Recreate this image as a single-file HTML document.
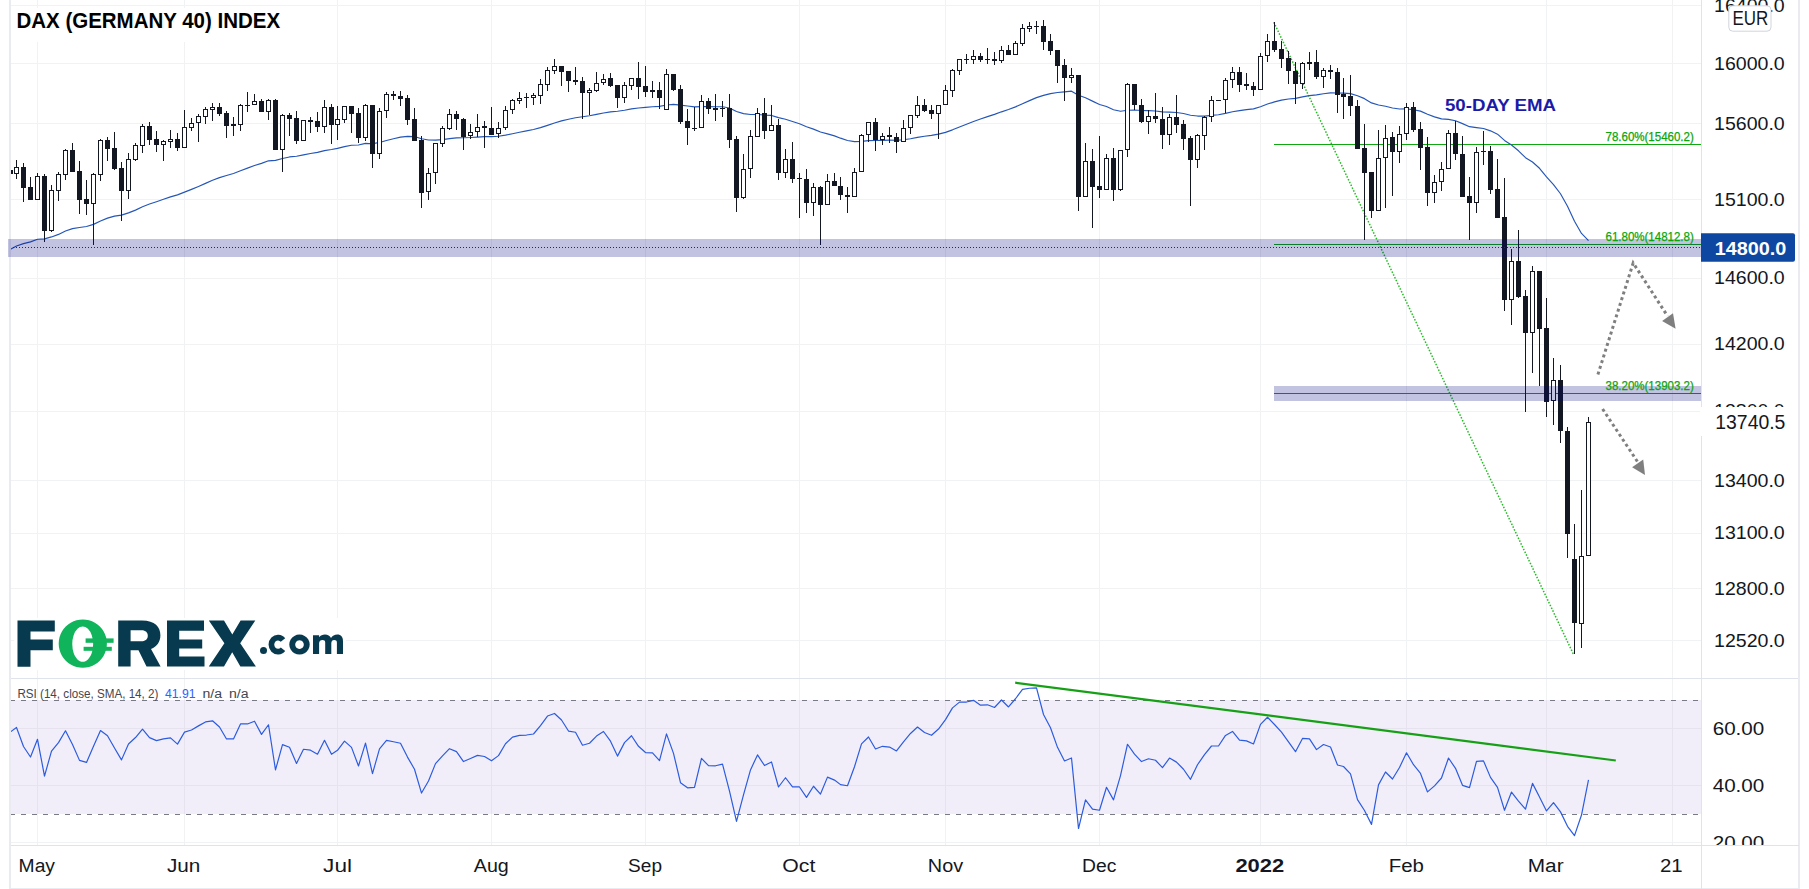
<!DOCTYPE html><html><head><meta charset="utf-8"><style>html,body{margin:0;padding:0;background:#fff;overflow:hidden;width:1809px;height:889px}svg{display:block}</style></head><body>
<svg width="1809" height="889" viewBox="0 0 1809 889">
<rect x="0" y="0" width="1809" height="889" fill="#ffffff"/>
<g shape-rendering="crispEdges" stroke="#f1f2f3" stroke-width="1">
<line x1="11" y1="5.5" x2="1701" y2="5.5"/>
<line x1="11" y1="63.5" x2="1701" y2="63.5"/>
<line x1="11" y1="123.5" x2="1701" y2="123.5"/>
<line x1="11" y1="199.5" x2="1701" y2="199.5"/>
<line x1="11" y1="278.5" x2="1701" y2="278.5"/>
<line x1="11" y1="344.5" x2="1701" y2="344.5"/>
<line x1="11" y1="411.5" x2="1701" y2="411.5"/>
<line x1="11" y1="480.5" x2="1701" y2="480.5"/>
<line x1="11" y1="533.5" x2="1701" y2="533.5"/>
<line x1="11" y1="588.5" x2="1701" y2="588.5"/>
<line x1="11" y1="640.5" x2="1701" y2="640.5"/>
<line x1="11" y1="728.5" x2="1701" y2="728.5"/>
<line x1="11" y1="785.5" x2="1701" y2="785.5"/>
<line x1="11" y1="842.5" x2="1701" y2="842.5"/>
<line x1="37.5" y1="0" x2="37.5" y2="845"/>
<line x1="184.5" y1="0" x2="184.5" y2="845"/>
<line x1="337.5" y1="0" x2="337.5" y2="845"/>
<line x1="491.5" y1="0" x2="491.5" y2="845"/>
<line x1="645.5" y1="0" x2="645.5" y2="845"/>
<line x1="799.5" y1="0" x2="799.5" y2="845"/>
<line x1="945.5" y1="0" x2="945.5" y2="845"/>
<line x1="1099.5" y1="0" x2="1099.5" y2="845"/>
<line x1="1260.5" y1="0" x2="1260.5" y2="845"/>
<line x1="1406.5" y1="0" x2="1406.5" y2="845"/>
<line x1="1546.5" y1="0" x2="1546.5" y2="845"/>
<line x1="1672.5" y1="0" x2="1672.5" y2="845"/>
</g>
<rect x="11" y="700" width="1690" height="114" fill="#f2eef9"/>
<g shape-rendering="crispEdges" stroke="#e6e3ef" stroke-width="1">
<line x1="37.5" y1="700" x2="37.5" y2="814"/>
<line x1="184.5" y1="700" x2="184.5" y2="814"/>
<line x1="337.5" y1="700" x2="337.5" y2="814"/>
<line x1="491.5" y1="700" x2="491.5" y2="814"/>
<line x1="645.5" y1="700" x2="645.5" y2="814"/>
<line x1="799.5" y1="700" x2="799.5" y2="814"/>
<line x1="945.5" y1="700" x2="945.5" y2="814"/>
<line x1="1099.5" y1="700" x2="1099.5" y2="814"/>
<line x1="1260.5" y1="700" x2="1260.5" y2="814"/>
<line x1="1406.5" y1="700" x2="1406.5" y2="814"/>
<line x1="1546.5" y1="700" x2="1546.5" y2="814"/>
<line x1="1672.5" y1="700" x2="1672.5" y2="814"/>
<line x1="11" y1="728.5" x2="1701" y2="728.5"/>
<line x1="11" y1="785.5" x2="1701" y2="785.5"/>
</g>
<g shape-rendering="crispEdges" stroke="#787b86" stroke-width="1" stroke-dasharray="5 6">
<line x1="10" y1="700.5" x2="1701" y2="700.5"/>
<line x1="10" y1="814.5" x2="1701" y2="814.5"/>
</g>
<rect x="11" y="8" width="285" height="34" fill="#ffffff"/>
<rect x="14" y="618" width="332" height="52" fill="#ffffff"/>
<g shape-rendering="crispEdges" fill="#10a810">
<rect x="1274" y="144" width="427" height="1"/>
<rect x="1274" y="244" width="427" height="1"/>
<rect x="1274" y="393" width="427" height="1"/>
</g>
<line x1="1273.8" y1="22.2" x2="1573.8" y2="655" stroke="#22bb22" stroke-width="1.5" stroke-dasharray="1.5 1.6"/>
<polyline points="10.50,249.24 16.50,245.94 23.50,243.60 30.50,241.87 37.50,239.23 44.50,238.87 51.50,236.92 58.50,234.40 65.50,231.01 72.50,228.62 79.50,227.46 86.50,226.49 93.50,224.39 100.50,221.01 107.50,218.10 114.50,216.12 121.50,215.09 128.50,212.84 135.50,210.12 142.50,206.76 149.50,204.07 156.50,201.68 163.50,199.26 170.50,196.85 177.50,194.88 184.50,192.16 191.50,189.40 198.50,186.46 205.50,183.37 212.50,180.32 219.50,177.64 226.50,175.56 233.50,173.55 240.50,170.80 247.50,168.16 254.50,165.48 261.50,163.35 268.50,160.82 275.50,160.36 282.50,158.55 289.50,156.94 296.50,156.28 303.50,154.83 310.50,153.49 317.50,152.40 324.50,150.59 331.50,149.54 337.50,148.32 344.50,146.63 351.50,145.30 358.50,144.97 365.50,143.38 372.50,143.75 379.50,142.44 386.50,140.51 393.50,138.74 400.50,137.13 407.50,136.42 414.50,136.56 421.50,138.71 428.50,140.04 435.50,140.13 442.50,139.64 449.50,138.62 456.50,137.84 463.50,137.78 470.50,137.52 477.50,137.06 484.50,136.69 491.50,136.59 498.50,136.21 505.50,135.16 512.50,133.76 519.50,132.30 526.50,130.88 533.50,129.47 540.50,127.66 547.50,125.35 554.50,122.98 561.50,120.92 568.50,119.30 575.50,117.79 582.50,116.77 589.50,115.71 596.50,114.40 603.50,112.96 610.50,111.85 617.50,111.27 624.50,110.22 631.50,108.93 638.50,108.03 645.50,107.35 652.50,106.71 659.50,106.34 666.50,105.05 673.50,104.44 680.50,105.09 687.50,105.97 694.50,106.81 701.50,106.57 708.50,106.66 715.50,106.75 722.50,106.77 729.50,108.03 736.50,111.46 743.50,113.67 750.50,114.53 757.50,114.45 764.50,115.07 771.50,115.44 778.50,117.67 785.50,119.27 792.50,121.57 799.50,123.78 806.50,126.80 813.50,129.13 820.50,132.02 827.50,133.88 834.50,135.90 840.50,138.17 847.50,140.45 854.50,141.66 861.50,141.37 868.50,140.60 875.50,140.55 882.50,140.33 889.50,140.16 896.50,140.20 903.50,139.70 910.50,138.71 917.50,137.34 924.50,136.26 931.50,135.34 938.50,134.10 945.50,132.34 952.50,129.84 959.50,127.01 966.50,124.28 973.50,121.54 980.50,119.06 987.50,116.65 994.50,114.41 1001.50,111.83 1008.50,109.54 1015.50,106.88 1022.50,103.73 1029.50,100.62 1036.50,97.63 1043.50,95.38 1050.50,93.59 1057.50,92.46 1064.50,91.85 1071.50,91.17 1078.50,95.20 1085.50,97.73 1092.50,101.13 1099.50,104.51 1106.50,106.56 1113.50,109.74 1120.50,111.30 1127.50,110.21 1134.50,109.99 1141.50,110.45 1148.50,110.66 1155.50,110.98 1162.50,111.89 1169.50,112.06 1176.50,112.53 1183.50,113.53 1190.50,115.30 1197.50,116.05 1204.50,116.06 1211.50,115.42 1218.50,114.80 1225.50,113.41 1232.50,111.77 1239.50,110.67 1246.50,109.65 1253.50,108.84 1260.50,106.70 1267.50,104.07 1274.50,101.88 1281.50,100.15 1288.50,98.97 1295.50,98.34 1302.50,96.92 1309.50,95.58 1316.50,94.81 1323.50,93.80 1330.50,92.93 1337.50,92.97 1343.50,93.09 1350.50,93.58 1357.50,95.70 1364.50,98.64 1371.50,102.91 1378.50,105.04 1385.50,106.28 1392.50,108.05 1399.50,109.02 1406.50,108.92 1413.50,109.70 1420.50,111.15 1427.50,114.27 1434.50,116.88 1441.50,118.89 1448.50,119.40 1455.50,120.74 1462.50,123.64 1469.50,126.66 1476.50,127.61 1483.50,128.48 1490.50,130.84 1497.50,134.15 1504.50,140.43 1511.50,145.03 1518.50,150.79 1525.50,157.64 1532.50,161.98 1539.50,168.28 1546.50,176.98 1553.50,184.59 1560.50,193.77 1567.50,206.20 1574.50,221.21 1581.50,233.47 1588.50,240.55" fill="none" stroke="#2456b8" stroke-width="1.15" stroke-linejoin="round"/>
<g shape-rendering="crispEdges">
<rect x="10" y="170" width="1" height="4" fill="#131722"/>
<rect x="8" y="170" width="5" height="4" fill="#131722"/>
<rect x="16" y="160" width="1" height="19" fill="#131722"/>
<rect x="14" y="167" width="5" height="7" fill="#131722"/>
<rect x="15" y="168" width="3" height="5" fill="#ffffff"/>
<rect x="23" y="163" width="1" height="39" fill="#131722"/>
<rect x="21" y="167" width="5" height="21" fill="#131722"/>
<rect x="30" y="177" width="1" height="23" fill="#131722"/>
<rect x="28" y="187" width="5" height="13" fill="#131722"/>
<rect x="37" y="173" width="1" height="27" fill="#131722"/>
<rect x="35" y="176" width="5" height="24" fill="#131722"/>
<rect x="36" y="177" width="3" height="22" fill="#ffffff"/>
<rect x="44" y="174" width="1" height="68" fill="#131722"/>
<rect x="42" y="176" width="5" height="55" fill="#131722"/>
<rect x="51" y="185" width="1" height="47" fill="#131722"/>
<rect x="49" y="190" width="5" height="41" fill="#131722"/>
<rect x="50" y="191" width="3" height="39" fill="#ffffff"/>
<rect x="58" y="172" width="1" height="29" fill="#131722"/>
<rect x="56" y="174" width="5" height="17" fill="#131722"/>
<rect x="57" y="175" width="3" height="15" fill="#ffffff"/>
<rect x="65" y="149" width="1" height="31" fill="#131722"/>
<rect x="63" y="150" width="5" height="25" fill="#131722"/>
<rect x="64" y="151" width="3" height="23" fill="#ffffff"/>
<rect x="72" y="143" width="1" height="29" fill="#131722"/>
<rect x="70" y="150" width="5" height="22" fill="#131722"/>
<rect x="79" y="161" width="1" height="53" fill="#131722"/>
<rect x="77" y="171" width="5" height="29" fill="#131722"/>
<rect x="86" y="180" width="1" height="35" fill="#131722"/>
<rect x="84" y="199" width="5" height="5" fill="#131722"/>
<rect x="93" y="173" width="1" height="72" fill="#131722"/>
<rect x="91" y="174" width="5" height="30" fill="#131722"/>
<rect x="92" y="175" width="3" height="28" fill="#ffffff"/>
<rect x="100" y="139" width="1" height="42" fill="#131722"/>
<rect x="98" y="140" width="5" height="35" fill="#131722"/>
<rect x="99" y="141" width="3" height="33" fill="#ffffff"/>
<rect x="107" y="137" width="1" height="24" fill="#131722"/>
<rect x="105" y="140" width="5" height="9" fill="#131722"/>
<rect x="114" y="132" width="1" height="38" fill="#131722"/>
<rect x="112" y="148" width="5" height="21" fill="#131722"/>
<rect x="121" y="162" width="1" height="59" fill="#131722"/>
<rect x="119" y="168" width="5" height="23" fill="#131722"/>
<rect x="128" y="153" width="1" height="46" fill="#131722"/>
<rect x="126" y="159" width="5" height="32" fill="#131722"/>
<rect x="127" y="160" width="3" height="30" fill="#ffffff"/>
<rect x="135" y="143" width="1" height="18" fill="#131722"/>
<rect x="133" y="145" width="5" height="15" fill="#131722"/>
<rect x="134" y="146" width="3" height="13" fill="#ffffff"/>
<rect x="142" y="124" width="1" height="29" fill="#131722"/>
<rect x="140" y="126" width="5" height="20" fill="#131722"/>
<rect x="141" y="127" width="3" height="18" fill="#ffffff"/>
<rect x="149" y="122" width="1" height="23" fill="#131722"/>
<rect x="147" y="126" width="5" height="14" fill="#131722"/>
<rect x="156" y="131" width="1" height="21" fill="#131722"/>
<rect x="154" y="139" width="5" height="6" fill="#131722"/>
<rect x="163" y="140" width="1" height="21" fill="#131722"/>
<rect x="161" y="141" width="5" height="4" fill="#131722"/>
<rect x="162" y="142" width="3" height="2" fill="#ffffff"/>
<rect x="170" y="130" width="1" height="18" fill="#131722"/>
<rect x="168" y="139" width="5" height="3" fill="#131722"/>
<rect x="169" y="140" width="3" height="1" fill="#ffffff"/>
<rect x="177" y="133" width="1" height="18" fill="#131722"/>
<rect x="175" y="139" width="5" height="9" fill="#131722"/>
<rect x="184" y="110" width="1" height="38" fill="#131722"/>
<rect x="182" y="127" width="5" height="21" fill="#131722"/>
<rect x="183" y="128" width="3" height="19" fill="#ffffff"/>
<rect x="191" y="118" width="1" height="13" fill="#131722"/>
<rect x="189" y="123" width="5" height="5" fill="#131722"/>
<rect x="190" y="124" width="3" height="3" fill="#ffffff"/>
<rect x="198" y="114" width="1" height="28" fill="#131722"/>
<rect x="196" y="116" width="5" height="7" fill="#131722"/>
<rect x="197" y="117" width="3" height="5" fill="#ffffff"/>
<rect x="205" y="107" width="1" height="17" fill="#131722"/>
<rect x="203" y="109" width="5" height="8" fill="#131722"/>
<rect x="204" y="110" width="3" height="6" fill="#ffffff"/>
<rect x="212" y="103" width="1" height="18" fill="#131722"/>
<rect x="210" y="107" width="5" height="3" fill="#131722"/>
<rect x="211" y="108" width="3" height="1" fill="#ffffff"/>
<rect x="219" y="103" width="1" height="13" fill="#131722"/>
<rect x="217" y="107" width="5" height="7" fill="#131722"/>
<rect x="226" y="111" width="1" height="27" fill="#131722"/>
<rect x="224" y="113" width="5" height="13" fill="#131722"/>
<rect x="233" y="117" width="1" height="19" fill="#131722"/>
<rect x="231" y="124" width="5" height="2" fill="#131722"/>
<rect x="240" y="104" width="1" height="27" fill="#131722"/>
<rect x="238" y="105" width="5" height="20" fill="#131722"/>
<rect x="239" y="106" width="3" height="18" fill="#ffffff"/>
<rect x="247" y="92" width="1" height="20" fill="#131722"/>
<rect x="245" y="105" width="5" height="1" fill="#131722"/>
<rect x="254" y="94" width="1" height="11" fill="#131722"/>
<rect x="252" y="101" width="5" height="4" fill="#131722"/>
<rect x="253" y="102" width="3" height="2" fill="#ffffff"/>
<rect x="261" y="99" width="1" height="13" fill="#131722"/>
<rect x="259" y="101" width="5" height="11" fill="#131722"/>
<rect x="268" y="99" width="1" height="21" fill="#131722"/>
<rect x="266" y="100" width="5" height="12" fill="#131722"/>
<rect x="267" y="101" width="3" height="10" fill="#ffffff"/>
<rect x="275" y="99" width="1" height="51" fill="#131722"/>
<rect x="273" y="100" width="5" height="50" fill="#131722"/>
<rect x="282" y="114" width="1" height="58" fill="#131722"/>
<rect x="280" y="115" width="5" height="35" fill="#131722"/>
<rect x="281" y="116" width="3" height="33" fill="#ffffff"/>
<rect x="289" y="113" width="1" height="23" fill="#131722"/>
<rect x="287" y="115" width="5" height="4" fill="#131722"/>
<rect x="296" y="111" width="1" height="33" fill="#131722"/>
<rect x="294" y="118" width="5" height="23" fill="#131722"/>
<rect x="303" y="120" width="1" height="21" fill="#131722"/>
<rect x="301" y="120" width="5" height="21" fill="#131722"/>
<rect x="302" y="121" width="3" height="19" fill="#ffffff"/>
<rect x="310" y="117" width="1" height="16" fill="#131722"/>
<rect x="308" y="120" width="5" height="2" fill="#131722"/>
<rect x="317" y="112" width="1" height="20" fill="#131722"/>
<rect x="315" y="121" width="5" height="6" fill="#131722"/>
<rect x="324" y="100" width="1" height="33" fill="#131722"/>
<rect x="322" y="107" width="5" height="20" fill="#131722"/>
<rect x="323" y="108" width="3" height="18" fill="#ffffff"/>
<rect x="331" y="104" width="1" height="40" fill="#131722"/>
<rect x="329" y="107" width="5" height="18" fill="#131722"/>
<rect x="337" y="106" width="1" height="34" fill="#131722"/>
<rect x="335" y="119" width="5" height="6" fill="#131722"/>
<rect x="336" y="120" width="3" height="4" fill="#ffffff"/>
<rect x="344" y="106" width="1" height="17" fill="#131722"/>
<rect x="342" y="106" width="5" height="14" fill="#131722"/>
<rect x="343" y="107" width="3" height="12" fill="#ffffff"/>
<rect x="351" y="106" width="1" height="27" fill="#131722"/>
<rect x="349" y="106" width="5" height="8" fill="#131722"/>
<rect x="358" y="108" width="1" height="35" fill="#131722"/>
<rect x="356" y="113" width="5" height="25" fill="#131722"/>
<rect x="365" y="104" width="1" height="37" fill="#131722"/>
<rect x="363" y="105" width="5" height="33" fill="#131722"/>
<rect x="364" y="106" width="3" height="31" fill="#ffffff"/>
<rect x="372" y="105" width="1" height="63" fill="#131722"/>
<rect x="370" y="105" width="5" height="49" fill="#131722"/>
<rect x="379" y="108" width="1" height="51" fill="#131722"/>
<rect x="377" y="111" width="5" height="43" fill="#131722"/>
<rect x="378" y="112" width="3" height="41" fill="#ffffff"/>
<rect x="386" y="92" width="1" height="26" fill="#131722"/>
<rect x="384" y="94" width="5" height="17" fill="#131722"/>
<rect x="385" y="95" width="3" height="15" fill="#ffffff"/>
<rect x="393" y="91" width="1" height="9" fill="#131722"/>
<rect x="391" y="94" width="5" height="2" fill="#131722"/>
<rect x="400" y="91" width="1" height="15" fill="#131722"/>
<rect x="398" y="96" width="5" height="3" fill="#131722"/>
<rect x="407" y="95" width="1" height="30" fill="#131722"/>
<rect x="405" y="98" width="5" height="22" fill="#131722"/>
<rect x="414" y="108" width="1" height="33" fill="#131722"/>
<rect x="412" y="119" width="5" height="22" fill="#131722"/>
<rect x="421" y="136" width="1" height="72" fill="#131722"/>
<rect x="419" y="140" width="5" height="53" fill="#131722"/>
<rect x="428" y="168" width="1" height="32" fill="#131722"/>
<rect x="426" y="173" width="5" height="19" fill="#131722"/>
<rect x="427" y="174" width="3" height="17" fill="#ffffff"/>
<rect x="435" y="143" width="1" height="41" fill="#131722"/>
<rect x="433" y="143" width="5" height="30" fill="#131722"/>
<rect x="434" y="144" width="3" height="28" fill="#ffffff"/>
<rect x="442" y="126" width="1" height="21" fill="#131722"/>
<rect x="440" y="128" width="5" height="16" fill="#131722"/>
<rect x="441" y="129" width="3" height="14" fill="#ffffff"/>
<rect x="449" y="109" width="1" height="21" fill="#131722"/>
<rect x="447" y="114" width="5" height="15" fill="#131722"/>
<rect x="448" y="115" width="3" height="13" fill="#ffffff"/>
<rect x="456" y="111" width="1" height="19" fill="#131722"/>
<rect x="454" y="114" width="5" height="5" fill="#131722"/>
<rect x="463" y="118" width="1" height="32" fill="#131722"/>
<rect x="461" y="119" width="5" height="18" fill="#131722"/>
<rect x="470" y="124" width="1" height="15" fill="#131722"/>
<rect x="468" y="132" width="5" height="4" fill="#131722"/>
<rect x="469" y="133" width="3" height="2" fill="#ffffff"/>
<rect x="477" y="114" width="1" height="23" fill="#131722"/>
<rect x="475" y="127" width="5" height="5" fill="#131722"/>
<rect x="476" y="128" width="3" height="3" fill="#ffffff"/>
<rect x="484" y="121" width="1" height="27" fill="#131722"/>
<rect x="482" y="126" width="5" height="2" fill="#131722"/>
<rect x="491" y="107" width="1" height="28" fill="#131722"/>
<rect x="489" y="128" width="5" height="7" fill="#131722"/>
<rect x="498" y="122" width="1" height="16" fill="#131722"/>
<rect x="496" y="128" width="5" height="6" fill="#131722"/>
<rect x="497" y="129" width="3" height="4" fill="#ffffff"/>
<rect x="505" y="106" width="1" height="24" fill="#131722"/>
<rect x="503" y="110" width="5" height="18" fill="#131722"/>
<rect x="504" y="111" width="3" height="16" fill="#ffffff"/>
<rect x="512" y="99" width="1" height="15" fill="#131722"/>
<rect x="510" y="100" width="5" height="10" fill="#131722"/>
<rect x="511" y="101" width="3" height="8" fill="#ffffff"/>
<rect x="519" y="92" width="1" height="12" fill="#131722"/>
<rect x="517" y="98" width="5" height="3" fill="#131722"/>
<rect x="518" y="99" width="3" height="1" fill="#ffffff"/>
<rect x="526" y="93" width="1" height="15" fill="#131722"/>
<rect x="524" y="97" width="5" height="1" fill="#131722"/>
<rect x="533" y="93" width="1" height="12" fill="#131722"/>
<rect x="531" y="95" width="5" height="3" fill="#131722"/>
<rect x="532" y="96" width="3" height="1" fill="#ffffff"/>
<rect x="540" y="79" width="1" height="25" fill="#131722"/>
<rect x="538" y="84" width="5" height="12" fill="#131722"/>
<rect x="539" y="85" width="3" height="10" fill="#ffffff"/>
<rect x="547" y="67" width="1" height="24" fill="#131722"/>
<rect x="545" y="70" width="5" height="15" fill="#131722"/>
<rect x="546" y="71" width="3" height="13" fill="#ffffff"/>
<rect x="554" y="59" width="1" height="15" fill="#131722"/>
<rect x="552" y="66" width="5" height="5" fill="#131722"/>
<rect x="553" y="67" width="3" height="3" fill="#ffffff"/>
<rect x="561" y="66" width="1" height="20" fill="#131722"/>
<rect x="559" y="66" width="5" height="6" fill="#131722"/>
<rect x="568" y="71" width="1" height="21" fill="#131722"/>
<rect x="566" y="71" width="5" height="10" fill="#131722"/>
<rect x="575" y="67" width="1" height="18" fill="#131722"/>
<rect x="573" y="80" width="5" height="2" fill="#131722"/>
<rect x="582" y="77" width="1" height="42" fill="#131722"/>
<rect x="580" y="81" width="5" height="12" fill="#131722"/>
<rect x="589" y="88" width="1" height="27" fill="#131722"/>
<rect x="587" y="90" width="5" height="3" fill="#131722"/>
<rect x="588" y="91" width="3" height="1" fill="#ffffff"/>
<rect x="596" y="72" width="1" height="20" fill="#131722"/>
<rect x="594" y="83" width="5" height="8" fill="#131722"/>
<rect x="595" y="84" width="3" height="6" fill="#ffffff"/>
<rect x="603" y="74" width="1" height="11" fill="#131722"/>
<rect x="601" y="79" width="5" height="4" fill="#131722"/>
<rect x="602" y="80" width="3" height="2" fill="#ffffff"/>
<rect x="610" y="73" width="1" height="14" fill="#131722"/>
<rect x="608" y="78" width="5" height="8" fill="#131722"/>
<rect x="617" y="85" width="1" height="23" fill="#131722"/>
<rect x="615" y="85" width="5" height="13" fill="#131722"/>
<rect x="624" y="82" width="1" height="21" fill="#131722"/>
<rect x="622" y="85" width="5" height="13" fill="#131722"/>
<rect x="623" y="86" width="3" height="11" fill="#ffffff"/>
<rect x="631" y="78" width="1" height="12" fill="#131722"/>
<rect x="629" y="78" width="5" height="8" fill="#131722"/>
<rect x="630" y="79" width="3" height="6" fill="#ffffff"/>
<rect x="638" y="62" width="1" height="37" fill="#131722"/>
<rect x="636" y="78" width="5" height="9" fill="#131722"/>
<rect x="645" y="66" width="1" height="31" fill="#131722"/>
<rect x="643" y="86" width="5" height="6" fill="#131722"/>
<rect x="652" y="81" width="1" height="17" fill="#131722"/>
<rect x="650" y="90" width="5" height="2" fill="#131722"/>
<rect x="659" y="82" width="1" height="27" fill="#131722"/>
<rect x="657" y="90" width="5" height="8" fill="#131722"/>
<rect x="666" y="69" width="1" height="41" fill="#131722"/>
<rect x="664" y="74" width="5" height="36" fill="#131722"/>
<rect x="665" y="75" width="3" height="34" fill="#ffffff"/>
<rect x="673" y="74" width="1" height="17" fill="#131722"/>
<rect x="671" y="74" width="5" height="16" fill="#131722"/>
<rect x="680" y="85" width="1" height="39" fill="#131722"/>
<rect x="678" y="89" width="5" height="33" fill="#131722"/>
<rect x="687" y="109" width="1" height="36" fill="#131722"/>
<rect x="685" y="121" width="5" height="7" fill="#131722"/>
<rect x="694" y="107" width="1" height="24" fill="#131722"/>
<rect x="692" y="128" width="5" height="1" fill="#131722"/>
<rect x="701" y="95" width="1" height="33" fill="#131722"/>
<rect x="699" y="101" width="5" height="27" fill="#131722"/>
<rect x="700" y="102" width="3" height="25" fill="#ffffff"/>
<rect x="708" y="98" width="1" height="16" fill="#131722"/>
<rect x="706" y="101" width="5" height="8" fill="#131722"/>
<rect x="715" y="94" width="1" height="27" fill="#131722"/>
<rect x="713" y="108" width="5" height="2" fill="#131722"/>
<rect x="722" y="101" width="1" height="16" fill="#131722"/>
<rect x="720" y="108" width="5" height="1" fill="#131722"/>
<rect x="729" y="94" width="1" height="54" fill="#131722"/>
<rect x="727" y="108" width="5" height="32" fill="#131722"/>
<rect x="736" y="136" width="1" height="76" fill="#131722"/>
<rect x="734" y="139" width="5" height="59" fill="#131722"/>
<rect x="743" y="154" width="1" height="45" fill="#131722"/>
<rect x="741" y="169" width="5" height="29" fill="#131722"/>
<rect x="742" y="170" width="3" height="27" fill="#ffffff"/>
<rect x="750" y="130" width="1" height="48" fill="#131722"/>
<rect x="748" y="136" width="5" height="33" fill="#131722"/>
<rect x="749" y="137" width="3" height="31" fill="#ffffff"/>
<rect x="757" y="108" width="1" height="29" fill="#131722"/>
<rect x="755" y="113" width="5" height="24" fill="#131722"/>
<rect x="756" y="114" width="3" height="22" fill="#ffffff"/>
<rect x="764" y="98" width="1" height="41" fill="#131722"/>
<rect x="762" y="113" width="5" height="18" fill="#131722"/>
<rect x="771" y="105" width="1" height="26" fill="#131722"/>
<rect x="769" y="125" width="5" height="6" fill="#131722"/>
<rect x="770" y="126" width="3" height="4" fill="#ffffff"/>
<rect x="778" y="119" width="1" height="61" fill="#131722"/>
<rect x="776" y="125" width="5" height="48" fill="#131722"/>
<rect x="785" y="149" width="1" height="29" fill="#131722"/>
<rect x="783" y="159" width="5" height="14" fill="#131722"/>
<rect x="784" y="160" width="3" height="12" fill="#ffffff"/>
<rect x="792" y="142" width="1" height="41" fill="#131722"/>
<rect x="790" y="159" width="5" height="20" fill="#131722"/>
<rect x="799" y="173" width="1" height="45" fill="#131722"/>
<rect x="797" y="178" width="5" height="1" fill="#131722"/>
<rect x="806" y="169" width="1" height="44" fill="#131722"/>
<rect x="804" y="179" width="5" height="24" fill="#131722"/>
<rect x="813" y="183" width="1" height="33" fill="#131722"/>
<rect x="811" y="187" width="5" height="16" fill="#131722"/>
<rect x="812" y="188" width="3" height="14" fill="#ffffff"/>
<rect x="820" y="186" width="1" height="59" fill="#131722"/>
<rect x="818" y="187" width="5" height="18" fill="#131722"/>
<rect x="827" y="174" width="1" height="31" fill="#131722"/>
<rect x="825" y="181" width="5" height="24" fill="#131722"/>
<rect x="826" y="182" width="3" height="22" fill="#ffffff"/>
<rect x="834" y="173" width="1" height="13" fill="#131722"/>
<rect x="832" y="181" width="5" height="5" fill="#131722"/>
<rect x="840" y="177" width="1" height="23" fill="#131722"/>
<rect x="838" y="186" width="5" height="9" fill="#131722"/>
<rect x="847" y="187" width="1" height="26" fill="#131722"/>
<rect x="845" y="195" width="5" height="2" fill="#131722"/>
<rect x="854" y="168" width="1" height="29" fill="#131722"/>
<rect x="852" y="172" width="5" height="25" fill="#131722"/>
<rect x="853" y="173" width="3" height="23" fill="#ffffff"/>
<rect x="861" y="134" width="1" height="38" fill="#131722"/>
<rect x="859" y="135" width="5" height="37" fill="#131722"/>
<rect x="860" y="136" width="3" height="35" fill="#ffffff"/>
<rect x="868" y="122" width="1" height="20" fill="#131722"/>
<rect x="866" y="122" width="5" height="13" fill="#131722"/>
<rect x="867" y="123" width="3" height="11" fill="#ffffff"/>
<rect x="875" y="118" width="1" height="33" fill="#131722"/>
<rect x="873" y="122" width="5" height="18" fill="#131722"/>
<rect x="882" y="133" width="1" height="12" fill="#131722"/>
<rect x="880" y="136" width="5" height="4" fill="#131722"/>
<rect x="881" y="137" width="3" height="2" fill="#ffffff"/>
<rect x="889" y="127" width="1" height="16" fill="#131722"/>
<rect x="887" y="135" width="5" height="2" fill="#131722"/>
<rect x="896" y="133" width="1" height="20" fill="#131722"/>
<rect x="894" y="137" width="5" height="5" fill="#131722"/>
<rect x="903" y="120" width="1" height="22" fill="#131722"/>
<rect x="901" y="128" width="5" height="14" fill="#131722"/>
<rect x="902" y="129" width="3" height="12" fill="#ffffff"/>
<rect x="910" y="115" width="1" height="19" fill="#131722"/>
<rect x="908" y="115" width="5" height="13" fill="#131722"/>
<rect x="909" y="116" width="3" height="11" fill="#ffffff"/>
<rect x="917" y="96" width="1" height="22" fill="#131722"/>
<rect x="915" y="105" width="5" height="11" fill="#131722"/>
<rect x="916" y="106" width="3" height="9" fill="#ffffff"/>
<rect x="924" y="99" width="1" height="13" fill="#131722"/>
<rect x="922" y="105" width="5" height="6" fill="#131722"/>
<rect x="931" y="105" width="1" height="14" fill="#131722"/>
<rect x="929" y="110" width="5" height="4" fill="#131722"/>
<rect x="938" y="105" width="1" height="34" fill="#131722"/>
<rect x="936" y="105" width="5" height="9" fill="#131722"/>
<rect x="937" y="106" width="3" height="7" fill="#ffffff"/>
<rect x="945" y="85" width="1" height="20" fill="#131722"/>
<rect x="943" y="90" width="5" height="15" fill="#131722"/>
<rect x="944" y="91" width="3" height="13" fill="#ffffff"/>
<rect x="952" y="69" width="1" height="28" fill="#131722"/>
<rect x="950" y="70" width="5" height="21" fill="#131722"/>
<rect x="951" y="71" width="3" height="19" fill="#ffffff"/>
<rect x="959" y="59" width="1" height="16" fill="#131722"/>
<rect x="957" y="59" width="5" height="12" fill="#131722"/>
<rect x="958" y="60" width="3" height="10" fill="#ffffff"/>
<rect x="966" y="54" width="1" height="10" fill="#131722"/>
<rect x="964" y="59" width="5" height="1" fill="#131722"/>
<rect x="973" y="50" width="1" height="14" fill="#131722"/>
<rect x="971" y="56" width="5" height="4" fill="#131722"/>
<rect x="972" y="57" width="3" height="2" fill="#ffffff"/>
<rect x="980" y="53" width="1" height="9" fill="#131722"/>
<rect x="978" y="56" width="5" height="4" fill="#131722"/>
<rect x="987" y="48" width="1" height="16" fill="#131722"/>
<rect x="985" y="59" width="5" height="1" fill="#131722"/>
<rect x="994" y="52" width="1" height="13" fill="#131722"/>
<rect x="992" y="59" width="5" height="2" fill="#131722"/>
<rect x="1001" y="46" width="1" height="17" fill="#131722"/>
<rect x="999" y="50" width="5" height="11" fill="#131722"/>
<rect x="1000" y="51" width="3" height="9" fill="#ffffff"/>
<rect x="1008" y="45" width="1" height="10" fill="#131722"/>
<rect x="1006" y="50" width="5" height="5" fill="#131722"/>
<rect x="1015" y="41" width="1" height="14" fill="#131722"/>
<rect x="1013" y="43" width="5" height="12" fill="#131722"/>
<rect x="1014" y="44" width="3" height="10" fill="#ffffff"/>
<rect x="1022" y="24" width="1" height="22" fill="#131722"/>
<rect x="1020" y="28" width="5" height="16" fill="#131722"/>
<rect x="1021" y="29" width="3" height="14" fill="#ffffff"/>
<rect x="1029" y="22" width="1" height="10" fill="#131722"/>
<rect x="1027" y="26" width="5" height="3" fill="#131722"/>
<rect x="1028" y="27" width="3" height="1" fill="#ffffff"/>
<rect x="1036" y="21" width="1" height="13" fill="#131722"/>
<rect x="1034" y="26" width="5" height="1" fill="#131722"/>
<rect x="1043" y="20" width="1" height="30" fill="#131722"/>
<rect x="1041" y="26" width="5" height="16" fill="#131722"/>
<rect x="1050" y="34" width="1" height="21" fill="#131722"/>
<rect x="1048" y="41" width="5" height="10" fill="#131722"/>
<rect x="1057" y="50" width="1" height="33" fill="#131722"/>
<rect x="1055" y="50" width="5" height="16" fill="#131722"/>
<rect x="1064" y="59" width="1" height="42" fill="#131722"/>
<rect x="1062" y="65" width="5" height="13" fill="#131722"/>
<rect x="1071" y="68" width="1" height="15" fill="#131722"/>
<rect x="1069" y="75" width="5" height="3" fill="#131722"/>
<rect x="1070" y="76" width="3" height="1" fill="#ffffff"/>
<rect x="1078" y="75" width="1" height="136" fill="#131722"/>
<rect x="1076" y="75" width="5" height="122" fill="#131722"/>
<rect x="1085" y="143" width="1" height="54" fill="#131722"/>
<rect x="1083" y="161" width="5" height="36" fill="#131722"/>
<rect x="1084" y="162" width="3" height="34" fill="#ffffff"/>
<rect x="1092" y="149" width="1" height="79" fill="#131722"/>
<rect x="1090" y="161" width="5" height="26" fill="#131722"/>
<rect x="1099" y="136" width="1" height="62" fill="#131722"/>
<rect x="1097" y="186" width="5" height="4" fill="#131722"/>
<rect x="1106" y="154" width="1" height="36" fill="#131722"/>
<rect x="1104" y="158" width="5" height="32" fill="#131722"/>
<rect x="1105" y="159" width="3" height="30" fill="#ffffff"/>
<rect x="1113" y="148" width="1" height="53" fill="#131722"/>
<rect x="1111" y="158" width="5" height="32" fill="#131722"/>
<rect x="1120" y="150" width="1" height="41" fill="#131722"/>
<rect x="1118" y="150" width="5" height="40" fill="#131722"/>
<rect x="1119" y="151" width="3" height="38" fill="#ffffff"/>
<rect x="1127" y="83" width="1" height="74" fill="#131722"/>
<rect x="1125" y="84" width="5" height="66" fill="#131722"/>
<rect x="1126" y="85" width="3" height="64" fill="#ffffff"/>
<rect x="1134" y="84" width="1" height="26" fill="#131722"/>
<rect x="1132" y="84" width="5" height="21" fill="#131722"/>
<rect x="1141" y="99" width="1" height="24" fill="#131722"/>
<rect x="1139" y="105" width="5" height="17" fill="#131722"/>
<rect x="1148" y="110" width="1" height="24" fill="#131722"/>
<rect x="1146" y="116" width="5" height="6" fill="#131722"/>
<rect x="1147" y="117" width="3" height="4" fill="#ffffff"/>
<rect x="1155" y="93" width="1" height="30" fill="#131722"/>
<rect x="1153" y="116" width="5" height="3" fill="#131722"/>
<rect x="1162" y="107" width="1" height="42" fill="#131722"/>
<rect x="1160" y="119" width="5" height="16" fill="#131722"/>
<rect x="1169" y="114" width="1" height="31" fill="#131722"/>
<rect x="1167" y="117" width="5" height="18" fill="#131722"/>
<rect x="1168" y="118" width="3" height="16" fill="#ffffff"/>
<rect x="1176" y="95" width="1" height="38" fill="#131722"/>
<rect x="1174" y="117" width="5" height="8" fill="#131722"/>
<rect x="1183" y="120" width="1" height="30" fill="#131722"/>
<rect x="1181" y="124" width="5" height="15" fill="#131722"/>
<rect x="1190" y="136" width="1" height="70" fill="#131722"/>
<rect x="1188" y="138" width="5" height="22" fill="#131722"/>
<rect x="1197" y="134" width="1" height="34" fill="#131722"/>
<rect x="1195" y="135" width="5" height="25" fill="#131722"/>
<rect x="1196" y="136" width="3" height="23" fill="#ffffff"/>
<rect x="1204" y="116" width="1" height="34" fill="#131722"/>
<rect x="1202" y="117" width="5" height="19" fill="#131722"/>
<rect x="1203" y="118" width="3" height="17" fill="#ffffff"/>
<rect x="1211" y="96" width="1" height="26" fill="#131722"/>
<rect x="1209" y="100" width="5" height="17" fill="#131722"/>
<rect x="1210" y="101" width="3" height="15" fill="#ffffff"/>
<rect x="1216" y="100" width="5" height="1" fill="#131722"/>
<rect x="1225" y="78" width="1" height="35" fill="#131722"/>
<rect x="1223" y="80" width="5" height="20" fill="#131722"/>
<rect x="1224" y="81" width="3" height="18" fill="#ffffff"/>
<rect x="1232" y="67" width="1" height="21" fill="#131722"/>
<rect x="1230" y="72" width="5" height="8" fill="#131722"/>
<rect x="1231" y="73" width="3" height="6" fill="#ffffff"/>
<rect x="1239" y="67" width="1" height="25" fill="#131722"/>
<rect x="1237" y="72" width="5" height="13" fill="#131722"/>
<rect x="1246" y="73" width="1" height="17" fill="#131722"/>
<rect x="1244" y="84" width="5" height="2" fill="#131722"/>
<rect x="1253" y="82" width="1" height="14" fill="#131722"/>
<rect x="1251" y="86" width="5" height="4" fill="#131722"/>
<rect x="1260" y="53" width="1" height="37" fill="#131722"/>
<rect x="1258" y="56" width="5" height="34" fill="#131722"/>
<rect x="1259" y="57" width="3" height="32" fill="#ffffff"/>
<rect x="1267" y="34" width="1" height="28" fill="#131722"/>
<rect x="1265" y="41" width="5" height="15" fill="#131722"/>
<rect x="1266" y="42" width="3" height="13" fill="#ffffff"/>
<rect x="1274" y="22" width="1" height="30" fill="#131722"/>
<rect x="1272" y="41" width="5" height="9" fill="#131722"/>
<rect x="1281" y="41" width="1" height="27" fill="#131722"/>
<rect x="1279" y="49" width="5" height="10" fill="#131722"/>
<rect x="1288" y="51" width="1" height="33" fill="#131722"/>
<rect x="1286" y="58" width="5" height="13" fill="#131722"/>
<rect x="1295" y="62" width="1" height="42" fill="#131722"/>
<rect x="1293" y="71" width="5" height="13" fill="#131722"/>
<rect x="1302" y="62" width="1" height="27" fill="#131722"/>
<rect x="1300" y="63" width="5" height="21" fill="#131722"/>
<rect x="1301" y="64" width="3" height="19" fill="#ffffff"/>
<rect x="1309" y="52" width="1" height="18" fill="#131722"/>
<rect x="1307" y="62" width="5" height="2" fill="#131722"/>
<rect x="1316" y="50" width="1" height="29" fill="#131722"/>
<rect x="1314" y="62" width="5" height="15" fill="#131722"/>
<rect x="1323" y="68" width="1" height="20" fill="#131722"/>
<rect x="1321" y="70" width="5" height="7" fill="#131722"/>
<rect x="1322" y="71" width="3" height="5" fill="#ffffff"/>
<rect x="1330" y="65" width="1" height="14" fill="#131722"/>
<rect x="1328" y="70" width="5" height="2" fill="#131722"/>
<rect x="1337" y="68" width="1" height="45" fill="#131722"/>
<rect x="1335" y="72" width="5" height="23" fill="#131722"/>
<rect x="1343" y="78" width="1" height="41" fill="#131722"/>
<rect x="1341" y="94" width="5" height="3" fill="#131722"/>
<rect x="1350" y="75" width="1" height="41" fill="#131722"/>
<rect x="1348" y="96" width="5" height="10" fill="#131722"/>
<rect x="1357" y="100" width="1" height="49" fill="#131722"/>
<rect x="1355" y="106" width="5" height="43" fill="#131722"/>
<rect x="1364" y="124" width="1" height="116" fill="#131722"/>
<rect x="1362" y="148" width="5" height="25" fill="#131722"/>
<rect x="1371" y="172" width="1" height="46" fill="#131722"/>
<rect x="1369" y="172" width="5" height="39" fill="#131722"/>
<rect x="1378" y="130" width="1" height="81" fill="#131722"/>
<rect x="1376" y="158" width="5" height="53" fill="#131722"/>
<rect x="1377" y="159" width="3" height="51" fill="#ffffff"/>
<rect x="1385" y="125" width="1" height="83" fill="#131722"/>
<rect x="1383" y="138" width="5" height="20" fill="#131722"/>
<rect x="1384" y="139" width="3" height="18" fill="#ffffff"/>
<rect x="1392" y="132" width="1" height="64" fill="#131722"/>
<rect x="1390" y="137" width="5" height="15" fill="#131722"/>
<rect x="1399" y="126" width="1" height="37" fill="#131722"/>
<rect x="1397" y="134" width="5" height="18" fill="#131722"/>
<rect x="1398" y="135" width="3" height="16" fill="#ffffff"/>
<rect x="1406" y="103" width="1" height="37" fill="#131722"/>
<rect x="1404" y="107" width="5" height="27" fill="#131722"/>
<rect x="1405" y="108" width="3" height="25" fill="#ffffff"/>
<rect x="1413" y="102" width="1" height="30" fill="#131722"/>
<rect x="1411" y="107" width="5" height="23" fill="#131722"/>
<rect x="1420" y="122" width="1" height="48" fill="#131722"/>
<rect x="1418" y="129" width="5" height="19" fill="#131722"/>
<rect x="1427" y="137" width="1" height="69" fill="#131722"/>
<rect x="1425" y="147" width="5" height="46" fill="#131722"/>
<rect x="1434" y="175" width="1" height="28" fill="#131722"/>
<rect x="1432" y="182" width="5" height="11" fill="#131722"/>
<rect x="1433" y="183" width="3" height="9" fill="#ffffff"/>
<rect x="1441" y="162" width="1" height="29" fill="#131722"/>
<rect x="1439" y="169" width="5" height="13" fill="#131722"/>
<rect x="1440" y="170" width="3" height="11" fill="#ffffff"/>
<rect x="1448" y="130" width="1" height="39" fill="#131722"/>
<rect x="1446" y="133" width="5" height="36" fill="#131722"/>
<rect x="1447" y="134" width="3" height="34" fill="#ffffff"/>
<rect x="1455" y="121" width="1" height="39" fill="#131722"/>
<rect x="1453" y="133" width="5" height="21" fill="#131722"/>
<rect x="1462" y="136" width="1" height="60" fill="#131722"/>
<rect x="1460" y="154" width="5" height="43" fill="#131722"/>
<rect x="1469" y="177" width="1" height="63" fill="#131722"/>
<rect x="1467" y="196" width="5" height="7" fill="#131722"/>
<rect x="1476" y="147" width="1" height="66" fill="#131722"/>
<rect x="1474" y="152" width="5" height="51" fill="#131722"/>
<rect x="1475" y="153" width="3" height="49" fill="#ffffff"/>
<rect x="1483" y="131" width="1" height="34" fill="#131722"/>
<rect x="1481" y="151" width="5" height="1" fill="#131722"/>
<rect x="1490" y="146" width="1" height="48" fill="#131722"/>
<rect x="1488" y="151" width="5" height="39" fill="#131722"/>
<rect x="1497" y="159" width="1" height="59" fill="#131722"/>
<rect x="1495" y="189" width="5" height="29" fill="#131722"/>
<rect x="1504" y="178" width="1" height="133" fill="#131722"/>
<rect x="1502" y="217" width="5" height="83" fill="#131722"/>
<rect x="1511" y="249" width="1" height="76" fill="#131722"/>
<rect x="1509" y="261" width="5" height="39" fill="#131722"/>
<rect x="1510" y="262" width="3" height="37" fill="#ffffff"/>
<rect x="1518" y="230" width="1" height="68" fill="#131722"/>
<rect x="1516" y="261" width="5" height="36" fill="#131722"/>
<rect x="1525" y="290" width="1" height="122" fill="#131722"/>
<rect x="1523" y="296" width="5" height="37" fill="#131722"/>
<rect x="1532" y="266" width="1" height="107" fill="#131722"/>
<rect x="1530" y="271" width="5" height="62" fill="#131722"/>
<rect x="1531" y="272" width="3" height="60" fill="#ffffff"/>
<rect x="1539" y="271" width="1" height="115" fill="#131722"/>
<rect x="1537" y="271" width="5" height="58" fill="#131722"/>
<rect x="1546" y="298" width="1" height="119" fill="#131722"/>
<rect x="1544" y="328" width="5" height="74" fill="#131722"/>
<rect x="1553" y="358" width="1" height="67" fill="#131722"/>
<rect x="1551" y="380" width="5" height="21" fill="#131722"/>
<rect x="1552" y="381" width="3" height="19" fill="#ffffff"/>
<rect x="1560" y="365" width="1" height="78" fill="#131722"/>
<rect x="1558" y="380" width="5" height="51" fill="#131722"/>
<rect x="1567" y="427" width="1" height="131" fill="#131722"/>
<rect x="1565" y="431" width="5" height="103" fill="#131722"/>
<rect x="1574" y="524" width="1" height="130" fill="#131722"/>
<rect x="1572" y="559" width="5" height="64" fill="#131722"/>
<rect x="1581" y="490" width="1" height="158" fill="#131722"/>
<rect x="1579" y="556" width="5" height="68" fill="#131722"/>
<rect x="1580" y="557" width="3" height="66" fill="#ffffff"/>
<rect x="1588" y="417" width="1" height="139" fill="#131722"/>
<rect x="1586" y="422" width="5" height="134" fill="#131722"/>
<rect x="1587" y="423" width="3" height="132" fill="#ffffff"/>
</g>
<rect x="8" y="239" width="1693" height="18" fill="rgba(0,0,128,0.24)" shape-rendering="crispEdges"/>
<rect x="1274" y="386" width="427" height="15" fill="rgba(0,0,128,0.24)" shape-rendering="crispEdges"/>
<line x1="10" y1="247.5" x2="1701" y2="247.5" stroke="#0b2a9c" stroke-width="1" stroke-dasharray="1 2" shape-rendering="crispEdges"/>
<line x1="1015.2" y1="682.7" x2="1615.8" y2="760.5" stroke="#16a016" stroke-width="2.2"/>
<polyline points="10.50,731.89 16.50,727.44 23.50,746.48 30.50,757.01 37.50,739.34 44.50,776.04 51.50,751.15 58.50,742.60 65.50,730.78 72.50,744.53 79.50,760.38 86.50,762.45 93.50,746.36 100.50,730.54 107.50,735.75 114.50,747.98 121.50,759.88 128.50,743.96 135.50,737.54 142.50,729.11 149.50,737.66 156.50,740.63 163.50,738.90 170.50,737.85 177.50,744.09 184.50,732.14 191.50,729.95 198.50,725.87 205.50,721.94 212.50,720.81 219.50,726.98 226.50,738.97 233.50,738.97 240.50,723.94 247.50,723.94 254.50,721.24 261.50,734.38 268.50,724.76 275.50,769.92 282.50,744.66 289.50,747.29 296.50,763.43 303.50,749.23 310.50,750.21 317.50,754.19 324.50,740.33 331.50,754.26 337.50,750.32 344.50,741.11 351.50,747.41 358.50,765.99 365.50,743.09 372.50,773.68 379.50,748.86 386.50,740.36 393.50,741.76 400.50,743.25 407.50,757.08 414.50,769.21 421.50,793.07 428.50,781.00 435.50,763.64 442.50,755.89 449.50,748.69 456.50,751.65 463.50,761.54 470.50,758.51 477.50,755.37 484.50,756.49 491.50,760.78 498.50,755.64 505.50,743.74 512.50,737.16 519.50,735.38 526.50,735.03 533.50,733.99 540.50,725.71 547.50,716.06 554.50,713.44 561.50,720.04 568.50,731.05 575.50,732.27 582.50,745.25 589.50,743.28 596.50,736.06 603.50,731.50 610.50,741.16 617.50,756.11 624.50,742.65 631.50,735.72 638.50,746.32 645.50,752.55 652.50,752.81 659.50,760.63 666.50,733.91 673.50,753.33 680.50,782.65 687.50,787.81 694.50,787.32 701.50,758.42 708.50,765.70 715.50,765.79 722.50,764.11 729.50,791.13 736.50,821.38 743.50,794.92 750.50,769.90 757.50,754.88 764.50,765.54 771.50,761.93 778.50,787.00 785.50,777.74 792.50,786.97 799.50,786.97 806.50,797.39 813.50,786.23 820.50,794.06 827.50,777.14 834.50,780.08 840.50,784.62 847.50,785.72 854.50,766.75 861.50,743.83 868.50,736.96 875.50,748.95 882.50,746.30 889.50,747.09 896.50,750.92 903.50,741.78 910.50,733.48 917.50,727.00 924.50,732.46 931.50,735.30 938.50,729.07 945.50,719.58 952.50,707.88 959.50,702.14 966.50,702.03 973.50,700.35 980.50,705.19 987.50,704.80 994.50,707.49 1001.50,699.99 1008.50,706.95 1015.50,698.75 1022.50,689.41 1029.50,688.27 1036.50,687.96 1043.50,714.49 1050.50,727.80 1057.50,747.34 1064.50,760.96 1071.50,757.99 1078.50,828.52 1085.50,799.86 1092.50,809.14 1099.50,810.22 1106.50,787.27 1113.50,799.84 1120.50,775.61 1127.50,744.25 1134.50,754.09 1141.50,761.56 1148.50,758.73 1155.50,760.23 1162.50,767.71 1169.50,758.06 1176.50,762.11 1183.50,769.28 1190.50,779.29 1197.50,764.75 1204.50,754.67 1211.50,746.00 1218.50,746.00 1225.50,735.45 1232.50,731.44 1239.50,740.22 1246.50,740.88 1253.50,743.94 1260.50,724.39 1267.50,717.24 1274.50,724.49 1281.50,732.14 1288.50,741.95 1295.50,751.70 1302.50,738.42 1309.50,738.83 1316.50,749.62 1323.50,744.53 1330.50,746.98 1337.50,764.98 1343.50,766.49 1350.50,773.86 1357.50,799.62 1364.50,810.53 1371.50,824.38 1378.50,784.89 1385.50,772.00 1392.50,779.04 1399.50,767.49 1406.50,752.76 1413.50,764.68 1420.50,773.43 1427.50,791.92 1434.50,785.88 1441.50,777.99 1448.50,758.03 1455.50,768.35 1462.50,785.35 1469.50,787.59 1476.50,761.38 1483.50,760.86 1490.50,777.37 1497.50,787.36 1504.50,810.30 1511.50,792.04 1518.50,801.10 1525.50,809.14 1532.50,783.39 1539.50,797.04 1546.50,810.91 1553.50,802.71 1560.50,811.88 1567.50,826.28 1574.50,835.65 1581.50,815.01 1588.50,779.89" fill="none" stroke="#2b5ce0" stroke-width="1.2" stroke-linejoin="round"/>
<g stroke="#7f7f7f" stroke-width="3" stroke-dasharray="3 3" fill="none">
<polyline points="1597.9,374.5 1633.2,263 1667.5,316"/>
<line x1="1602.6" y1="409" x2="1639" y2="464"/>
</g>
<g fill="#7f7f7f">
<polygon points="1662.1,321 1673,313.2 1675.6,328.7"/>
<polygon points="1632.1,467.2 1643.2,459.4 1645,474.9"/>
</g>
<g shape-rendering="crispEdges">
<rect x="1701" y="0" width="98" height="889" fill="#ffffff"/>
<rect x="0" y="845" width="1701" height="44" fill="#ffffff"/>
<rect x="0" y="0" width="9" height="889" fill="#ffffff"/>
<rect x="1799" y="0" width="10" height="889" fill="#ffffff"/>
</g>
<g shape-rendering="crispEdges" fill="#e9ebf1">
<rect x="9" y="0" width="2" height="889"/>
<rect x="1798" y="0" width="2" height="889"/>
<rect x="9" y="888" width="1791" height="1"/>
</g>
<rect x="8" y="239" width="3" height="18" fill="rgba(0,0,128,0.24)" shape-rendering="crispEdges"/>
<g shape-rendering="crispEdges" fill="#e0e3eb">
<rect x="1701" y="0" width="1" height="845"/>
<rect x="11" y="678" width="1787" height="1"/>
<rect x="11" y="845" width="1787" height="1"/>
<rect x="1701" y="845" width="1" height="44"/>
</g>
<text x="1714.0" y="11.8" font-family="Liberation Sans, sans-serif" font-size="18.2" font-weight="normal" fill="#131722" textLength="70.7" lengthAdjust="spacingAndGlyphs">16400.0</text>
<text x="1714.0" y="69.8" font-family="Liberation Sans, sans-serif" font-size="18.2" font-weight="normal" fill="#131722" textLength="70.7" lengthAdjust="spacingAndGlyphs">16000.0</text>
<text x="1714.0" y="129.7" font-family="Liberation Sans, sans-serif" font-size="18.2" font-weight="normal" fill="#131722" textLength="70.7" lengthAdjust="spacingAndGlyphs">15600.0</text>
<text x="1714.0" y="205.5" font-family="Liberation Sans, sans-serif" font-size="18.2" font-weight="normal" fill="#131722" textLength="70.7" lengthAdjust="spacingAndGlyphs">15100.0</text>
<text x="1714.0" y="284.4" font-family="Liberation Sans, sans-serif" font-size="18.2" font-weight="normal" fill="#131722" textLength="70.7" lengthAdjust="spacingAndGlyphs">14600.0</text>
<text x="1714.0" y="350.4" font-family="Liberation Sans, sans-serif" font-size="18.2" font-weight="normal" fill="#131722" textLength="70.7" lengthAdjust="spacingAndGlyphs">14200.0</text>
<text x="1714.0" y="417.4" font-family="Liberation Sans, sans-serif" font-size="18.2" font-weight="normal" fill="#131722" textLength="70.7" lengthAdjust="spacingAndGlyphs">13800.0</text>
<text x="1714.0" y="487.0" font-family="Liberation Sans, sans-serif" font-size="18.2" font-weight="normal" fill="#131722" textLength="70.7" lengthAdjust="spacingAndGlyphs">13400.0</text>
<text x="1714.0" y="539.4" font-family="Liberation Sans, sans-serif" font-size="18.2" font-weight="normal" fill="#131722" textLength="70.7" lengthAdjust="spacingAndGlyphs">13100.0</text>
<text x="1714.0" y="594.8" font-family="Liberation Sans, sans-serif" font-size="18.2" font-weight="normal" fill="#131722" textLength="70.7" lengthAdjust="spacingAndGlyphs">12800.0</text>
<text x="1714.0" y="646.7" font-family="Liberation Sans, sans-serif" font-size="18.2" font-weight="normal" fill="#131722" textLength="70.7" lengthAdjust="spacingAndGlyphs">12520.0</text>
<text x="1712.7" y="735.0" font-family="Liberation Sans, sans-serif" font-size="18.2" font-weight="normal" fill="#131722" textLength="51.6" lengthAdjust="spacingAndGlyphs">60.00</text>
<text x="1712.7" y="791.9" font-family="Liberation Sans, sans-serif" font-size="18.2" font-weight="normal" fill="#131722" textLength="51.6" lengthAdjust="spacingAndGlyphs">40.00</text>
<text x="1712.7" y="848.8" font-family="Liberation Sans, sans-serif" font-size="18.2" font-weight="normal" fill="#131722" textLength="51.6" lengthAdjust="spacingAndGlyphs">20.00</text>
<rect x="1702" y="845" width="96" height="43" fill="#ffffff"/>
<rect x="1701" y="845" width="98" height="1" fill="#e0e3eb"/>
<rect x="1728.8" y="5.8" width="42.2" height="25.4" rx="4" fill="#ffffff" stroke="#d1d4dc" stroke-width="1"/>
<text x="1732.5" y="24.7" font-family="Liberation Sans, sans-serif" font-size="19.5" fill="#131722" textLength="35.8" lengthAdjust="spacingAndGlyphs">EUR</text>
<path d="M1701,233.2 H1793 a2,2 0 0 1 2,2 V259.7 a2,2 0 0 1 -2,2 H1701 Z" fill="#0e47a2"/>
<text x="1714.7" y="254.7" font-family="Liberation Sans, sans-serif" font-size="18.6" font-weight="bold" fill="#ffffff" textLength="71.6" lengthAdjust="spacingAndGlyphs">14800.0</text>
<rect x="1700" y="407" width="98" height="29" fill="#ffffff"/>
<text x="1715.3" y="429.1" font-family="Liberation Sans, sans-serif" font-size="19.7" font-weight="normal" fill="#131722" textLength="70.1" lengthAdjust="spacingAndGlyphs">13740.5</text>
<text x="18.6" y="871.6" font-family="Liberation Sans, sans-serif" font-size="18" font-weight="normal" fill="#131722" textLength="36.4" lengthAdjust="spacingAndGlyphs">May</text>
<text x="166.9" y="871.6" font-family="Liberation Sans, sans-serif" font-size="18" font-weight="normal" fill="#131722" textLength="33.4" lengthAdjust="spacingAndGlyphs">Jun</text>
<text x="323.1" y="871.6" font-family="Liberation Sans, sans-serif" font-size="18" font-weight="normal" fill="#131722" textLength="28.9" lengthAdjust="spacingAndGlyphs">Jul</text>
<text x="473.8" y="871.6" font-family="Liberation Sans, sans-serif" font-size="18" font-weight="normal" fill="#131722" textLength="35.0" lengthAdjust="spacingAndGlyphs">Aug</text>
<text x="628.1" y="871.6" font-family="Liberation Sans, sans-serif" font-size="18" font-weight="normal" fill="#131722" textLength="33.9" lengthAdjust="spacingAndGlyphs">Sep</text>
<text x="782.3" y="871.6" font-family="Liberation Sans, sans-serif" font-size="18" font-weight="normal" fill="#131722" textLength="33.0" lengthAdjust="spacingAndGlyphs">Oct</text>
<text x="927.8" y="871.6" font-family="Liberation Sans, sans-serif" font-size="18" font-weight="normal" fill="#131722" textLength="35.3" lengthAdjust="spacingAndGlyphs">Nov</text>
<text x="1082.1" y="871.6" font-family="Liberation Sans, sans-serif" font-size="18" font-weight="normal" fill="#131722" textLength="34.3" lengthAdjust="spacingAndGlyphs">Dec</text>
<text x="1388.7" y="871.6" font-family="Liberation Sans, sans-serif" font-size="18" font-weight="normal" fill="#131722" textLength="35.2" lengthAdjust="spacingAndGlyphs">Feb</text>
<text x="1527.8" y="871.6" font-family="Liberation Sans, sans-serif" font-size="18" font-weight="normal" fill="#131722" textLength="35.8" lengthAdjust="spacingAndGlyphs">Mar</text>
<text x="1660.0" y="871.6" font-family="Liberation Sans, sans-serif" font-size="18" font-weight="normal" fill="#131722" textLength="22.7" lengthAdjust="spacingAndGlyphs">21</text>
<text x="1235.4" y="871.6" font-family="Liberation Sans, sans-serif" font-size="18" font-weight="bold" fill="#131722" textLength="48.8" lengthAdjust="spacingAndGlyphs">2022</text>
<text x="16.5" y="28.1" font-family="Liberation Sans, sans-serif" font-size="21.7" font-weight="bold" fill="#000000" textLength="263.6" lengthAdjust="spacingAndGlyphs">DAX (GERMANY 40) INDEX</text>
<text x="1444.9" y="110.7" font-family="Liberation Sans, sans-serif" font-size="17.4" font-weight="bold" fill="#1b1ba8" textLength="111.2" lengthAdjust="spacingAndGlyphs">50-DAY EMA</text>
<text x="1605.5" y="140.7" font-family="Liberation Sans, sans-serif" font-size="12" fill="#0aa50a" stroke="#0aa50a" stroke-width="0.25" textLength="88.3" lengthAdjust="spacingAndGlyphs">78.60%(15460.2)</text>
<text x="1605.5" y="240.8" font-family="Liberation Sans, sans-serif" font-size="12" fill="#0aa50a" stroke="#0aa50a" stroke-width="0.25" textLength="88.3" lengthAdjust="spacingAndGlyphs">61.80%(14812.8)</text>
<text x="1605.5" y="389.5" font-family="Liberation Sans, sans-serif" font-size="12" fill="#0aa50a" stroke="#0aa50a" stroke-width="0.25" textLength="88.3" lengthAdjust="spacingAndGlyphs">38.20%(13903.2)</text>
<text x="17.4" y="698.2" font-family="Liberation Sans, sans-serif" font-size="12" fill="#434651" textLength="141.0" lengthAdjust="spacingAndGlyphs">RSI (14, close, SMA, 14, 2)</text>
<text x="165.0" y="698.2" font-family="Liberation Sans, sans-serif" font-size="12" fill="#2962ff" textLength="30.6" lengthAdjust="spacingAndGlyphs">41.91</text>
<text x="202.5" y="698.2" font-family="Liberation Sans, sans-serif" font-size="12" fill="#434651" textLength="19.6" lengthAdjust="spacingAndGlyphs">n/a</text>
<text x="229.0" y="698.2" font-family="Liberation Sans, sans-serif" font-size="12" fill="#434651" textLength="19.6" lengthAdjust="spacingAndGlyphs">n/a</text>
<g fill="#073a4e">
<path d="M17.5,620.4 H54.8 V631.4 H30.5 V639.4 H52.8 V650.3 H30.5 V666.7 H17.5 Z"/>
<path d="M118.2,620.6 H142 C155,620.6 160.4,627 160.4,635.3 C160.4,642 157,646.5 151,649 L160.6,666.4 H146.5 L138.5,650.3 H130.6 V666.4 H118.2 Z M130.6,630.2 V641.2 H141.5 C145.8,641.2 147.8,638.8 147.8,635.7 C147.8,632.6 145.8,630.2 141.5,630.2 Z" fill-rule="evenodd"/>
<path d="M167,620.6 H204 V630.8 H179.2 V639.4 H202.2 V648.6 H179.2 V656.4 H204.5 V666.4 H167 Z"/>
<path d="M208.8,620.6 H224 L232.3,634.6 L240.6,620.6 H255.3 L240.2,643.2 L255.9,666.4 H240.4 L232.2,652.2 L224,666.4 H208.8 L224.4,643.2 Z"/>
</g>
<circle cx="263.5" cy="650.4" r="3.5" fill="#073a4e"/>
<path d="M283.0,640.0 A6.6,7.05 0 1 0 283.0,649.2" fill="none" stroke="#073a4e" stroke-width="5.7"/>
<path d="M299.5,634.6 A10.2,9.95 0 1 1 299.49,634.6 Z M299.5,640.25 A4.3,4.35 0 1 0 299.51,640.25 Z" fill="#073a4e" fill-rule="evenodd"/>
<path d="M313,654 V635.3 H319.1 V637.3 C320.5,635.4 322.6,634.6 325,634.6 C327.8,634.6 329.9,635.9 331,638 C332.3,635.8 334.6,634.6 337.3,634.6 C341,634.6 343,637 343,641.2 V654 H336.9 V642.4 C336.9,640.6 335.8,639.9 334.2,639.9 C332.4,639.9 331.3,641.1 331.3,643.2 V654 H325.2 V642.4 C325.2,640.6 324.1,639.9 322.5,639.9 C320.5,639.9 319.1,641.1 319.1,643.2 V654 Z" fill="#073a4e"/>
<path d="M82.8,619.5 A24.1,24.1 0 1 1 82.79,619.5 Z M82.7,626.4 A10.45,17.7 0 1 0 82.71,626.4 Z" fill="#10b45a" fill-rule="evenodd"/>
<g fill="#10b45a"><rect x="85.6" y="638.4" width="28" height="4.4"/><rect x="83.6" y="646.8" width="28.2" height="4.0"/></g>
</svg></body></html>
